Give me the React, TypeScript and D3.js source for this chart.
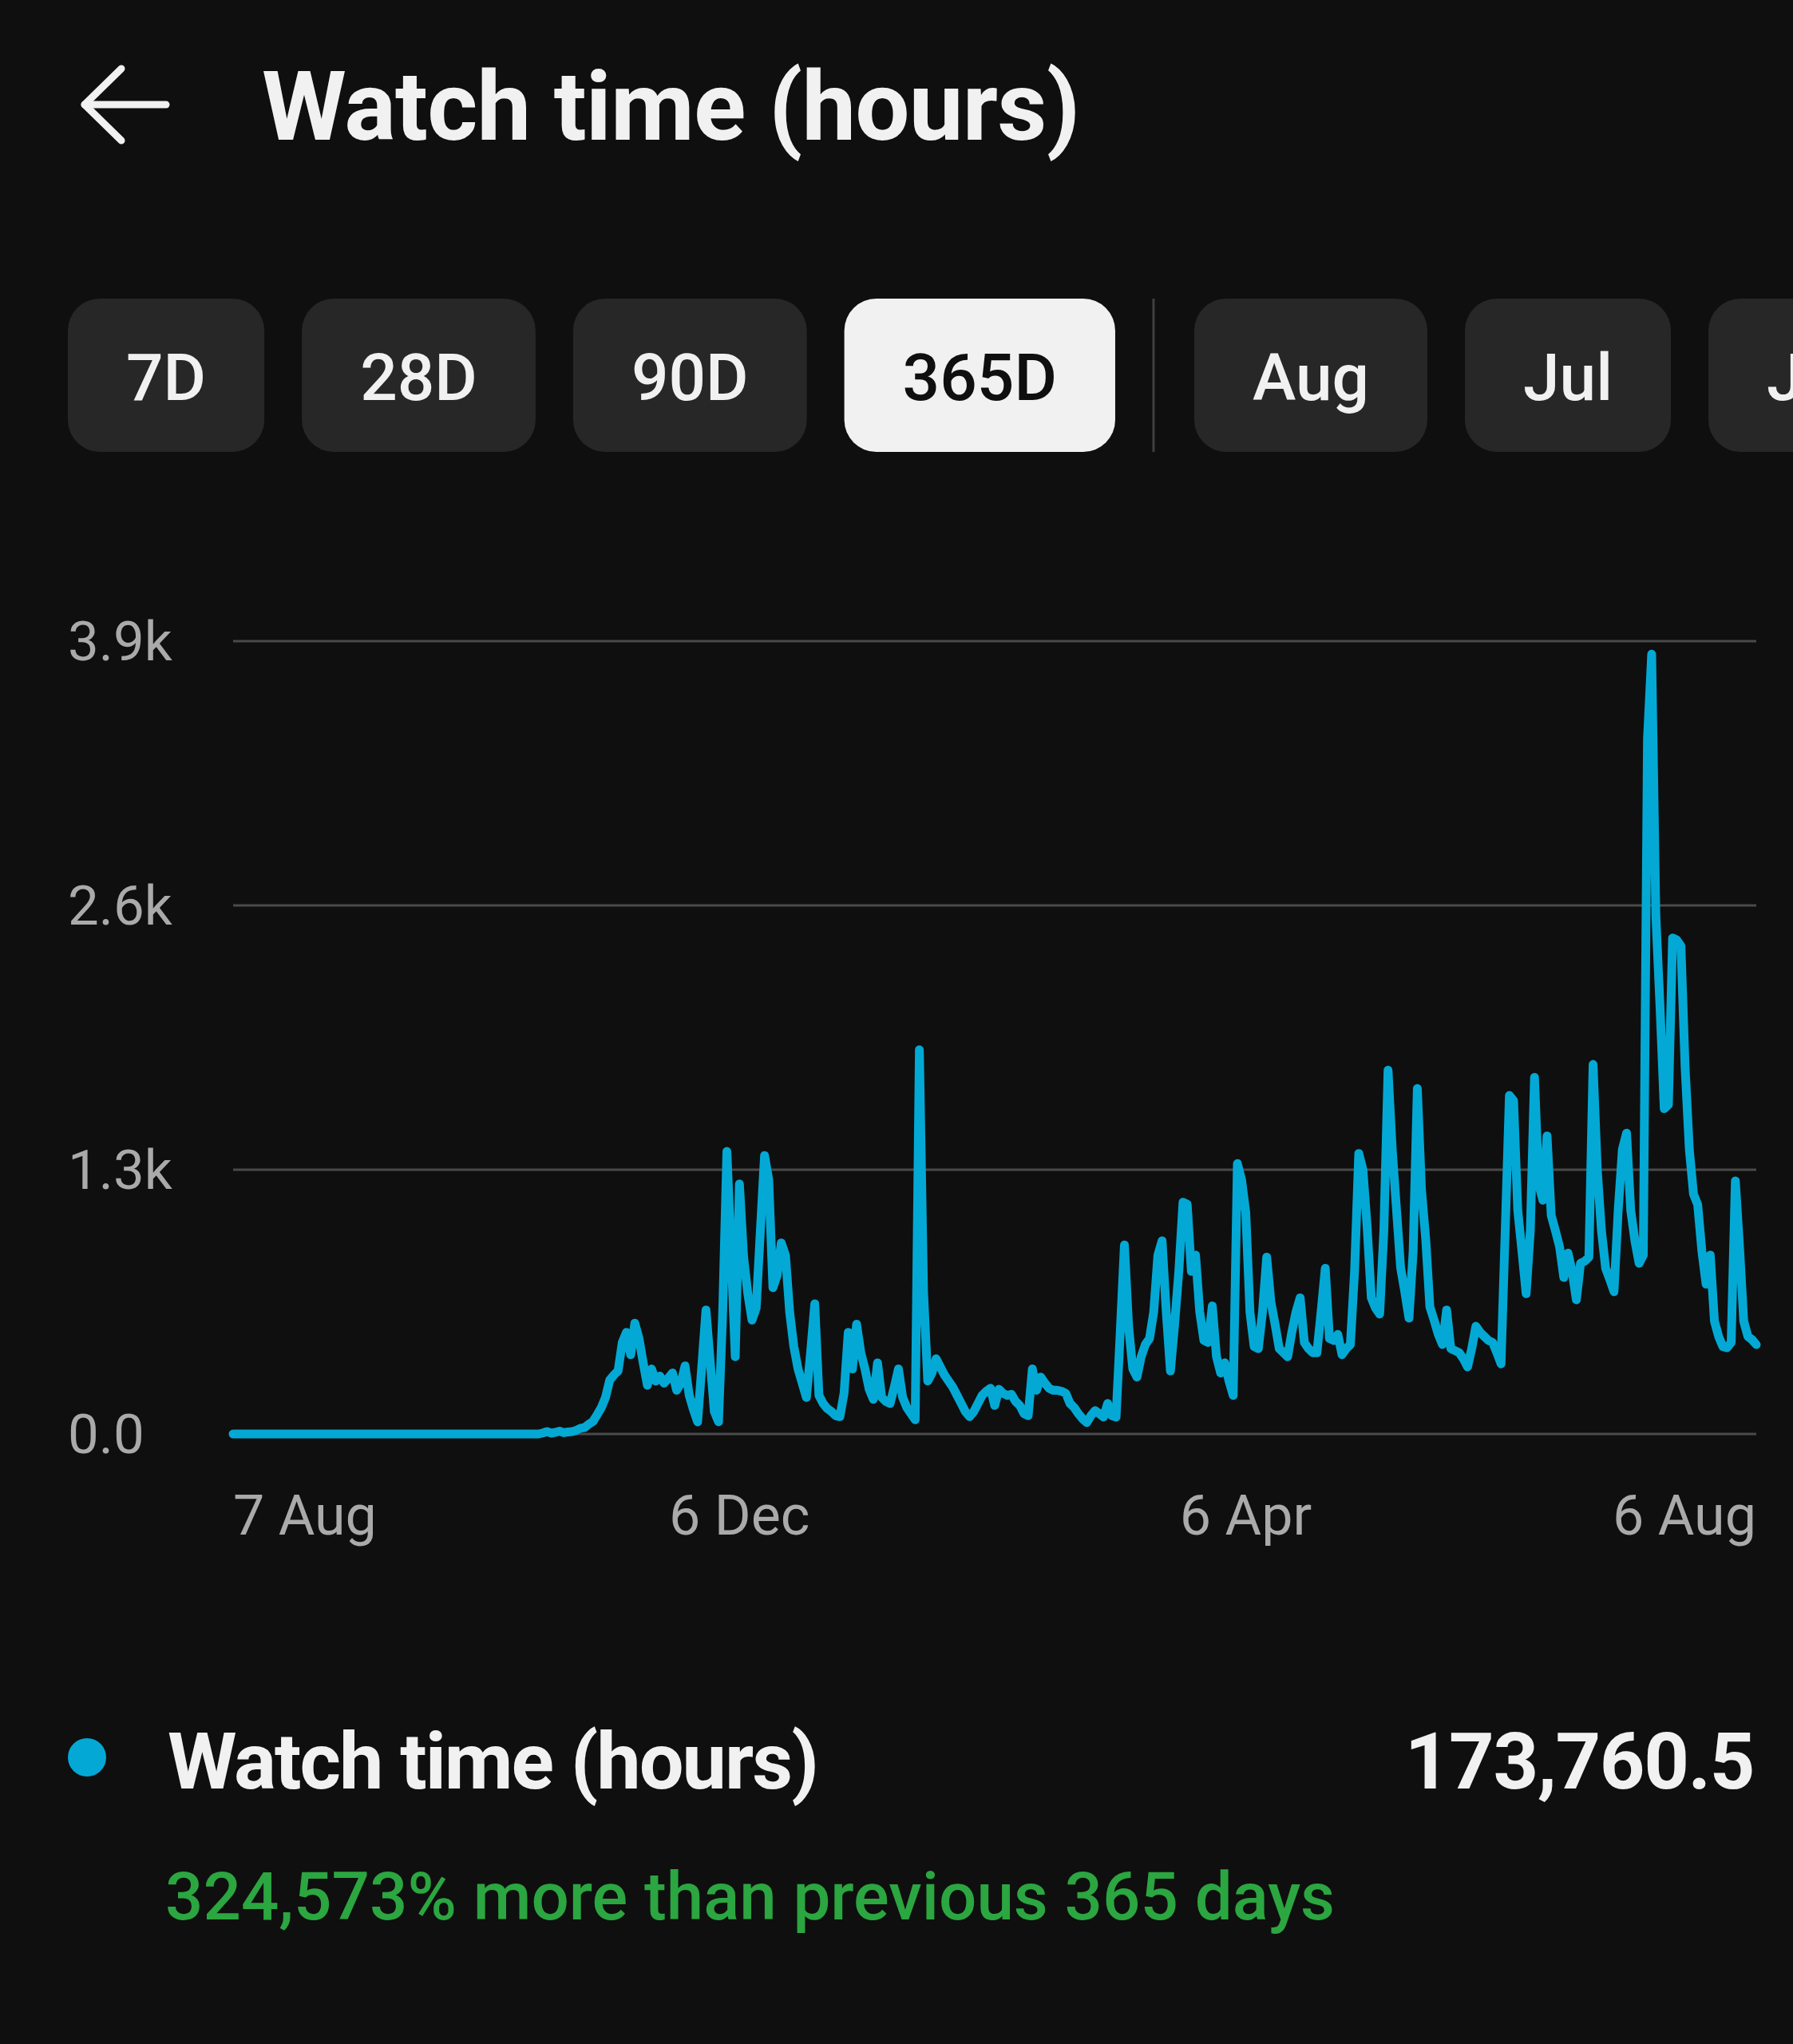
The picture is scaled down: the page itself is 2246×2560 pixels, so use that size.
import { useMemo } from "react";
import * as d3 from "d3";

// ---- data (daily watch hours, 7 Aug -> 6 Aug) ----
const START_DATE = new Date(2022, 7, 7);

const WATCH_HOURS: number[] = [
  0, 0, 0, 0, 0, 0, 0, 0, 0, 0, 0, 0, 0, 0, 0, 0, 0, 0, 0, 0,
  0, 0, 0, 0, 0, 0, 0, 0, 0, 0, 0, 0, 0, 0, 0, 0, 0, 0, 0, 0,
  0, 0, 0, 0, 0, 0, 0, 0, 0, 0, 0, 0, 0, 0, 0, 0, 0, 0, 0, 0,
  0, 0, 0, 0, 0, 0, 0, 0, 0, 0, 0, 0, 0, 0,
  5, 12, 4, 8, 14, 6, 10, 12, 18, 28, 32, 48, 62, 95, 130, 180,
  265, 290, 310, 450, 500, 390, 545, 470, 350, 240,
  320, 260, 285, 250, 275, 300, 215, 250, 335, 190,
  120, 60, 330, 610, 360, 110, 60, 600, 1390, 900,
  380, 1230, 870, 690, 560, 620, 1000, 1370, 1250, 720,
  780, 940, 880, 600, 430, 320, 250, 180, 400, 640,
  190, 150, 125, 110, 90, 85, 200, 500, 320, 540,
  400, 320, 220, 170, 350, 180, 160, 150, 230, 320,
  180, 130, 100, 70, 1890, 700, 260, 300, 370, 330,
  290, 260, 230, 190, 150, 110, 85, 110, 150, 190,
  210, 225, 140, 220, 200, 190, 195, 160, 140, 100,
  90, 320, 215, 280, 250, 225, 215, 215, 210, 200,
  150, 130, 100, 75, 56, 90, 115, 100, 83, 150,
  90, 83, 500, 930, 530, 320, 280, 380, 440, 470,
  600, 880, 950, 600, 310, 540, 800, 1140, 1130, 800,
  880, 600, 460, 450, 630, 380, 300, 350, 260, 190,
  1330, 1250, 1090, 600, 430, 420, 600, 870, 650, 540,
  420, 400, 380, 500, 600, 670, 450, 420, 400, 400,
  600, 815, 470, 460, 490, 390, 420, 440, 800, 1380,
  1300, 1020, 670, 620, 590, 1000, 1790, 1400, 1110, 820,
  700, 570, 900, 1700, 1200, 960, 625, 560, 490, 440,
  610, 420, 410, 400, 370, 330, 420, 530, 500, 480,
  460, 450, 400, 345, 1000, 1665, 1640, 1100, 900, 690,
  1000, 1755, 1230, 1150, 1466, 1075, 1000, 920, 770, 890,
  800, 660, 840, 850, 870, 1818, 1300, 1000, 815, 760,
  700, 1100, 1400, 1480, 1100, 950, 840, 880, 3420, 3836,
  2550, 2100, 1600, 1620, 2440, 2430, 2400, 1800, 1400, 1180,
  1128, 900, 737, 880, 555, 480, 430, 424, 450, 1245,
  919, 555, 480, 464, 440,
];

const Y_TICKS = [0, 1300, 2600, 3900];
const Y_TICK_LABELS = ["0.0", "1.3k", "2.6k", "3.9k"];
const X_TICK_DATES = [
  new Date(2022, 7, 7),
  new Date(2022, 11, 6),
  new Date(2023, 3, 6),
  new Date(2023, 7, 6),
];

const RANGE_CHIPS = ["7D", "28D", "90D", "365D"];
const MONTH_CHIPS = ["Aug", "Jul", "Jun"];
const SELECTED_CHIP = "365D";

const TITLE = "Watch time (hours)";
const TOTAL_LABEL = "173,760.5";
const CHANGE_LABEL = "324,573% more than previous 365 days";

const W = 2246;
const H = 2560;
const FONT = "Roboto, 'Noto Sans', sans-serif";
const LINE_COLOR = "#03a9d4";

function textWidth(text: string, font: string) {
  const ctx = document.createElement("canvas").getContext("2d");
  if (!ctx) return text.length * 40;
  ctx.font = font;
  return ctx.measureText(text).width;
}

export default function App() {
  const x = d3
    .scaleTime()
    .domain([START_DATE, d3.timeDay.offset(START_DATE, WATCH_HOURS.length - 1)])
    .range([292, 2200]);
  const y = d3.scaleLinear().domain([0, 3900]).range([1796, 803]);

  const points = WATCH_HOURS.map((v, i) => ({
    date: d3.timeDay.offset(START_DATE, i),
    value: v,
  }));

  const linePath =
    d3
      .line<{ date: Date; value: number }>()
      .x((d) => x(d.date))
      .y((d) => y(d.value))(points) || "";

  const fmt = d3.timeFormat("%-d %b");

  // chip row layout, widths from the label text
  const chips = useMemo(() => {
    const chipFont = `500 82px Roboto`;
    const pad = 73;
    const gap = 47;
    let cx = 85;
    const out: { label: string; x: number; w: number; selected: boolean }[] = [];
    RANGE_CHIPS.forEach((c) => {
      const w = textWidth(c, chipFont) + pad * 2;
      out.push({ label: c, x: cx, w, selected: c === SELECTED_CHIP });
      cx += w + gap;
    });
    const dividerX = cx + 1;
    cx = dividerX + 51;
    MONTH_CHIPS.forEach((c) => {
      const w = textWidth(c, chipFont) + pad * 2;
      out.push({ label: c, x: cx, w, selected: c === SELECTED_CHIP });
      cx += w + gap;
    });
    return { out, dividerX };
  }, []);

  return (
    <svg
      width={W}
      height={H}
      style={{ position: "absolute", left: 0, top: 0, display: "block", background: "#0f0f0f" }}
      fontFamily={FONT}
    >
      <rect width={W} height={H} fill="#0f0f0f" />

      {/* header */}
      <g stroke="#f1f1f1" strokeWidth={9} strokeLinecap="round" strokeLinejoin="round" fill="none">
        <line x1={106} y1={131} x2={208} y2={131} />
        <polyline points="152,86 106,131 152,176" />
      </g>
      <text x={328} y={175} fill="#f1f1f1" fontSize={121} fontWeight={700} letterSpacing={-0.8}>
        {TITLE}
      </text>

      {/* range chips */}
      {chips.out.map((c) => (
        <g key={c.label}>
          <rect
            x={c.x}
            y={374}
            width={c.w}
            height={192}
            rx={40}
            fill={c.selected ? "#f1f1f1" : "#272727"}
          />
          <text
            x={c.x + c.w / 2}
            y={501}
            textAnchor="middle"
            fill={c.selected ? "#0f0f0f" : "#f1f1f1"}
            fontSize={82}
            fontWeight={500}
          >
            {c.label}
          </text>
        </g>
      ))}
      <line x1={chips.dividerX} x2={chips.dividerX} y1={374} y2={566} stroke="#3f3f3f" strokeWidth={3} />

      {/* grid + y labels */}
      {Y_TICKS.map((t, i) => (
        <g key={t}>
          <line x1={292} x2={2200} y1={y(t)} y2={y(t)} stroke="#4a4a4a" strokeWidth={3} />
          <text x={85} y={y(t) + 24} fill="#aaaaaa" fontSize={69}>
            {Y_TICK_LABELS[i]}
          </text>
        </g>
      ))}

      {/* x labels */}
      {X_TICK_DATES.map((d, i) => (
        <text
          key={i}
          x={x(d)}
          y={1922}
          fill="#aaaaaa"
          fontSize={70}
          textAnchor={i === 0 ? "start" : i === X_TICK_DATES.length - 1 ? "end" : "middle"}
        >
          {fmt(d)}
        </text>
      ))}

      {/* series */}
      <path
        d={linePath}
        fill="none"
        stroke={LINE_COLOR}
        strokeWidth={11}
        strokeLinejoin="round"
        strokeLinecap="round"
      />

      {/* legend / summary */}
      <circle cx={109} cy={2201} r={24} fill={LINE_COLOR} />
      <text x={210} y={2240} fill="#f1f1f1" fontSize={99} fontWeight={700} letterSpacing={-2}>
        {TITLE}
      </text>
      <text x={2197} y={2240} fill="#f1f1f1" fontSize={99} fontWeight={700} letterSpacing={-1.5} textAnchor="end">
        {TOTAL_LABEL}
      </text>
      <text x={207} y={2404} fill="#2ba640" fontSize={83.5} fontWeight={500}>
        {CHANGE_LABEL}
      </text>
    </svg>
  );
}
